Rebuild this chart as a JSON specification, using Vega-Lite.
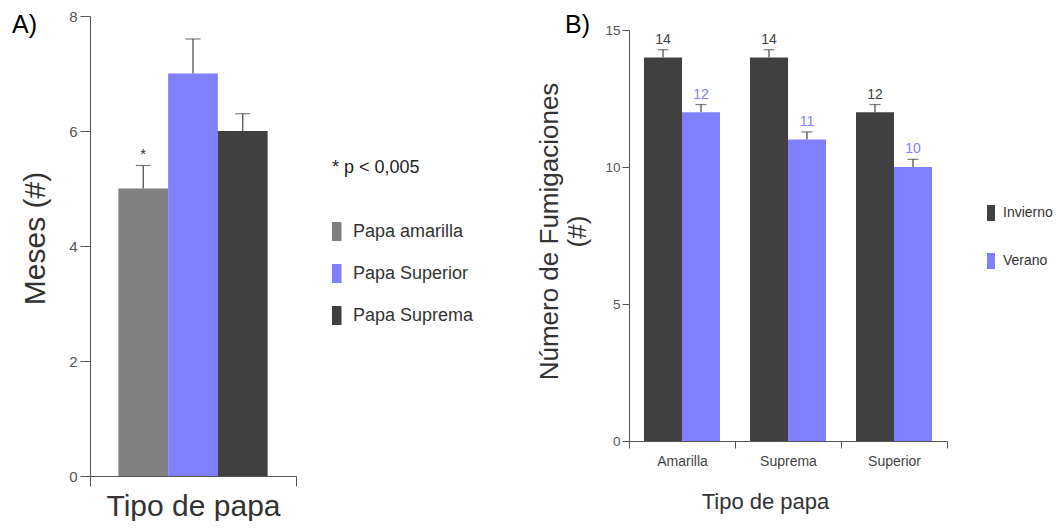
{
  "$schema": "https://vega.github.io/schema/vega-lite/v6.json",
  "background": "white",
  "padding": {"left": 12, "top": 9, "right": 0, "bottom": 0},
  "autosize": {"type": "pad"},
  "config": {
    "view": {"stroke": null},
    "axis": {"grid": false, "domainColor": "#555", "tickColor": "#555", "labelColor": "#555", "titleColor": "#333", "titleFontWeight": "normal"}
  },
  "spacing": 333,
  "bounds": "flush",
  "resolve": {"scale": {"color": "independent", "x": "independent", "y": "independent", "xOffset": "independent"}, "legend": {"color": "independent"}},
  "hconcat": [
    {
      "width": 206,
      "height": 460,
      "title": {"text": "A)", "anchor": "start", "frame": "group", "fontSize": 25, "font": "Liberation Sans", "fontWeight": "normal", "color": "#000", "dx": -78, "offset": 0, "baseline": "alphabetic", "dy": 49},
      "data": {"values": [
        {"grupo": "Tipo de papa", "tipo": "Papa amarilla", "meses": 5, "sup": 5.4, "sig": "*"},
        {"grupo": "Tipo de papa", "tipo": "Papa Superior", "meses": 7, "sup": 7.6, "sig": ""},
        {"grupo": "Tipo de papa", "tipo": "Papa Suprema", "meses": 6, "sup": 6.3, "sig": ""}
      ]},
      "encoding": {
        "x": {"field": "grupo", "type": "nominal", "scale": {"paddingInner": 0, "paddingOuter": 0},
          "axis": {"labels": false, "tickBand": "extent", "tickSize": 10, "title": "Tipo de papa", "titleFontSize": 30, "titleFont": "Liberation Sans", "titleColor": "#333", "titleX": 103, "titleY": 15, "titleAlign": "center", "titleBaseline": "top"}},
        "xOffset": {"field": "tipo", "type": "nominal", "sort": ["Papa amarilla", "Papa Superior", "Papa Suprema"], "scale": {"paddingInner": 0, "paddingOuter": 0.57}},
        "y": {"field": "meses", "type": "quantitative", "scale": {"domain": [0, 8], "nice": false},
          "axis": {"values": [0, 2, 4, 6, 8], "tickSize": 10, "labelPadding": 3, "labelFontSize": 15, "labelFont": "Liberation Sans", "title": "Meses (#)", "titleFontSize": 30, "titleFont": "Liberation Sans", "titleColor": "#333", "titleX": -46, "titleY": 222, "titleAngle": -90, "titleAlign": "center", "titleBaseline": "alphabetic"}}
      },
      "layer": [
        {
          "mark": {"type": "bar"},
          "encoding": {
            "color": {"field": "tipo", "type": "nominal", "sort": ["Papa amarilla", "Papa Superior", "Papa Suprema"],
              "scale": {"domain": ["Papa amarilla", "Papa Superior", "Papa Suprema"], "range": ["#808080", "#8080ff", "#404040"]},
              "legend": {"title": "* p < 0,005", "orient": "none", "legendX": 242, "legendY": 143, "titleFontSize": 18, "titleFont": "Liberation Sans", "titleFontWeight": "normal", "titleColor": "#222", "titlePadding": 45, "labelFontSize": 18, "labelFont": "Liberation Sans", "labelColor": "#333", "symbolType": "M-1,-1H0V1H-1Z", "symbolSize": 361, "symbolStrokeWidth": 0, "symbolOpacity": 1, "rowPadding": 23, "labelOffset": 2}}
          }
        },
        {
          "mark": {"type": "rule", "color": "#444", "strokeWidth": 1.2},
          "encoding": {"y2": {"field": "sup"}}
        },
        {
          "mark": {"type": "tick", "color": "#444", "size": 15, "thickness": 1.2},
          "encoding": {"y": {"field": "sup", "type": "quantitative"}}
        },
        {
          "mark": {"type": "text", "baseline": "bottom", "dy": -4, "fontSize": 15, "font": "Liberation Sans", "color": "#333"},
          "encoding": {"y": {"field": "sup", "type": "quantitative"}, "text": {"field": "sig"}}
        }
      ]
    },
    {
      "bounds": "flush",
      "spacing": 13,
      "vconcat": [
        {
          "width": 318,
          "height": 1,
          "data": {"values": [{"v": 0}]},
          "mark": {"type": "text", "text": ""},
          "encoding": {}
        },
        {
          "width": 318,
          "height": 411,
          "title": {"text": "B)", "anchor": "start", "frame": "group", "fontSize": 25, "font": "Liberation Sans", "fontWeight": "normal", "color": "#000", "dx": -64, "offset": 0, "baseline": "alphabetic", "dy": 35},
          "data": {"values": [
            {"tipo": "Amarilla", "estacion": "Invierno", "n": 14, "sup": 14.28},
            {"tipo": "Amarilla", "estacion": "Verano", "n": 12, "sup": 12.28},
            {"tipo": "Suprema", "estacion": "Invierno", "n": 14, "sup": 14.28},
            {"tipo": "Suprema", "estacion": "Verano", "n": 11, "sup": 11.28},
            {"tipo": "Superior", "estacion": "Invierno", "n": 12, "sup": 12.28},
            {"tipo": "Superior", "estacion": "Verano", "n": 10, "sup": 10.28}
          ]},
          "encoding": {
            "x": {"field": "tipo", "type": "nominal", "sort": ["Amarilla", "Suprema", "Superior"], "scale": {"paddingInner": 0, "paddingOuter": 0},
              "axis": {"tickBand": "extent", "tickSize": 7, "labelAngle": 0, "labelFontSize": 14, "labelFont": "Liberation Sans", "labelColor": "#444", "labelPadding": 6, "title": "Tipo de papa", "titleFontSize": 22, "titleFont": "Liberation Sans", "titleColor": "#333", "titleX": 136, "titleY": 50, "titleAlign": "center", "titleBaseline": "top"}},
            "xOffset": {"field": "estacion", "type": "nominal", "sort": ["Invierno", "Verano"], "scale": {"paddingInner": 0, "paddingOuter": 0.395}},
            "y": {"field": "n", "type": "quantitative", "scale": {"domain": [0, 15], "nice": false},
              "axis": {"values": [0, 5, 10, 15], "tickSize": 7, "labelPadding": 2, "labelFontSize": 13.5, "labelFont": "Liberation Sans", "title": ["Número de Fumigaciones", "(#)"], "titleFontSize": 26, "titleFont": "Liberation Sans", "titleColor": "#333", "titleX": -72, "titleY": 201, "titleAngle": -90, "titleAlign": "center", "titleBaseline": "alphabetic", "titleLineHeight": 28}}
          },
          "layer": [
            {
              "mark": {"type": "bar"},
              "encoding": {
                "color": {"field": "estacion", "type": "nominal", "sort": ["Invierno", "Verano"],
                  "scale": {"domain": ["Invierno", "Verano"], "range": ["#404040", "#8080ff"]},
                  "legend": {"title": null, "orient": "none", "legendX": 358, "legendY": 189, "labelFontSize": 14, "labelFont": "Liberation Sans", "labelColor": "#333", "symbolType": "M-1,-1H0V1H-1Z", "symbolSize": 256, "symbolStrokeWidth": 0, "symbolOpacity": 1, "rowPadding": 32, "labelOffset": 0}}
              }
            },
            {
              "mark": {"type": "rule", "color": "#444", "strokeWidth": 1.2},
              "encoding": {"y2": {"field": "sup"}}
            },
            {
              "mark": {"type": "tick", "color": "#444", "size": 11, "thickness": 1.2},
              "encoding": {"y": {"field": "sup", "type": "quantitative"}}
            },
            {
              "mark": {"type": "text", "baseline": "bottom", "dy": -3, "fontSize": 14, "font": "Liberation Sans"},
              "encoding": {
                "y": {"field": "sup", "type": "quantitative"},
                "text": {"field": "n"},
                "color": {"condition": {"test": "datum.estacion === 'Verano'", "value": "#8080ff"}, "value": "#404040"}
              }
            }
          ]
        }
      ]
    }
  ]
}
